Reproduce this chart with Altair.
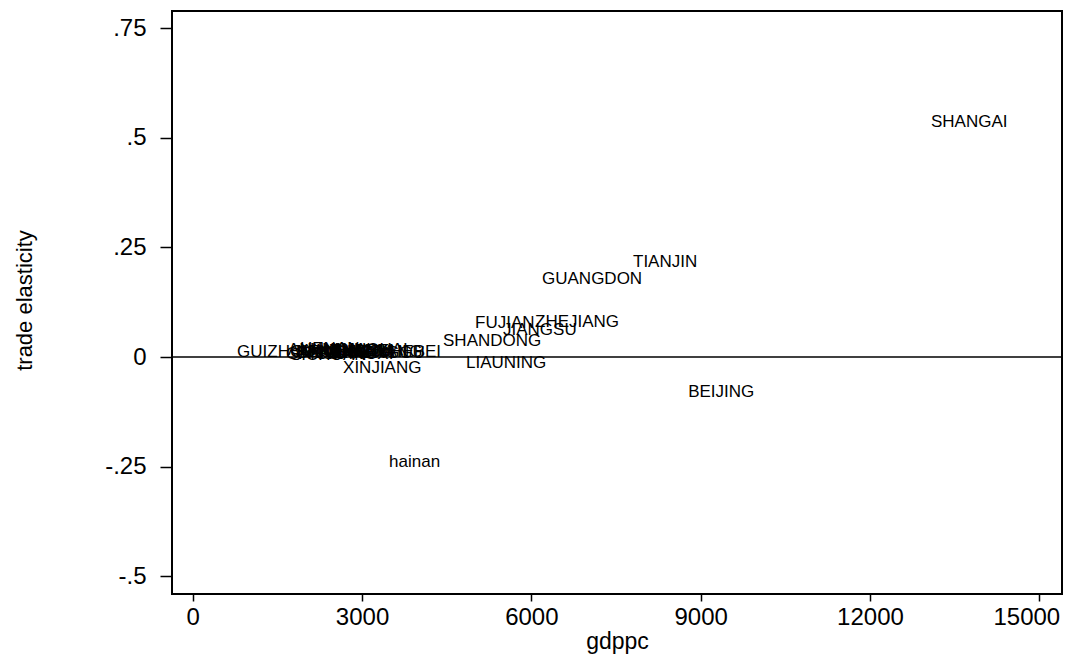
import altair as alt
import pandas as pd

# Provinces: GDP per capita vs. estimated trade elasticity
province = [
    "SHANGAI", "TIANJIN", "GUANGDON", "ZHEJIANG", "FUJIAN", "JIANGSU",
    "SHANDONG", "LIAUNING", "BEIJING", "hainan", "XINJIANG", "GUIZHOU",
    "GANSU", "ANHUI", "SICHUAN", "JIANGXI", "SHAANXI", "HENAN", "YUNNAN",
    "HEILONGJIANG", "HUNAN", "GUANGXI", "NEIMENGGU", "NINGXIA", "SHANXI",
    "QINGHAI", "HUBEI", "JILIN", "HEBEI",
]
gdppc = [
    13010, 7730, 6118, 5994, 4931, 5427,
    4364, 4772, 8707, 3408, 2593, 716,
    1582, 1618, 1653, 1706, 1759, 1830, 1919,
    1759, 2007, 2096, 2185, 2273, 2362,
    2468, 2574, 2681, 3426,
]
elasticity = [
    0.536, 0.217, 0.178, 0.080, 0.0775, 0.0616,
    0.0365, -0.0137, -0.080, -0.239, -0.025, 0.011,
    0.0068, 0.016, 0.0046, 0.0114, 0.0091, 0.018, 0.0137,
    0.0114, 0.016, 0.0068, 0.0091, 0.0114, 0.0137,
    0.016, 0.0137, 0.0114, 0.0114,
]

x_ticks = [0, 3000, 6000, 9000, 12000, 15000]
y_ticks = [0.75, 0.5, 0.25, 0, -0.25, -0.5]
y_tick_labels = [".75", ".5", ".25", "0", "-.25", "-.5"]

df = pd.DataFrame({"province": province, "gdppc": gdppc, "elasticity": elasticity})
zero = pd.DataFrame({"y": [0]})

FONT = "Liberation Sans"

# y tick labels written the way Stata prints them (no leading zero)
y_label_expr = " : ".join(
    f"datum.value == {v} ? '{t}'" for v, t in zip(y_ticks, y_tick_labels)
) + " : ''"

x_scale = alt.Scale(domain=[-367, 15402], nice=False, zero=False)
y_scale = alt.Scale(domain=[-0.540, 0.789], nice=False, zero=False)

labels = alt.Chart(df).mark_text(
    align="left", baseline="middle", dx=4, font=FONT, fontSize=17, color="black"
).encode(
    x=alt.X(
        "gdppc:Q", scale=x_scale,
        axis=alt.Axis(
            values=x_ticks, format="d", title="gdppc", grid=False, domain=False,
            tickSize=7, tickColor="black", tickWidth=1.5,
            labelFont=FONT, labelFontSize=24, labelColor="black", labelPadding=4,
            labelOffset={"condition": {"test": "datum.value == 15000", "value": -13}, "value": 0},
            titleFont=FONT, titleFontSize=23, titleFontWeight="normal", titleColor="black",
            titleX=445, titleY=54, titleBaseline="alphabetic", titleAlign="center",
        ),
    ),
    y=alt.Y(
        "elasticity:Q", scale=y_scale,
        axis=alt.Axis(
            values=y_ticks, labelExpr=y_label_expr,
            title="trade elasticity", grid=False, domain=False,
            tickSize=12, tickColor="black", tickWidth=1.5,
            labelFont=FONT, labelFontSize=24, labelColor="black", labelPadding=14,
            titleFont=FONT, titleFontSize=22, titleFontWeight="normal", titleColor="black",
            titleAngle=-90, titleX=-141, titleY=289, titleAlign="center",
            titleBaseline="alphabetic",
        ),
    ),
    text="province:N",
)

zero_line = alt.Chart(zero).mark_rule(color="black", strokeWidth=1.5).encode(
    y=alt.Y("y:Q", scale=y_scale)
)

chart = (
    alt.layer(zero_line, labels)
    .properties(
        width=890, height=583,
        autosize=alt.AutoSizeParams(type="none"),
        padding={"left": 172, "top": 11, "right": 3, "bottom": 64},
        background="white",
    )
    .configure_view(stroke="black", strokeWidth=2)
)

chart.save("out.html", embed_options={"renderer": "svg", "actions": False})
